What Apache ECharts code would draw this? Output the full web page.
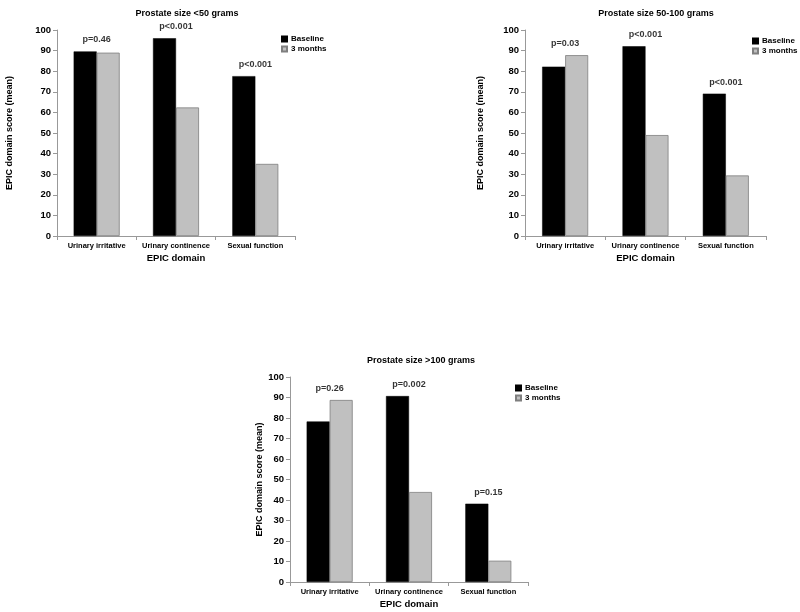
<!DOCTYPE html>
<html><head><meta charset="utf-8">
<script src="https://cdn.jsdelivr.net/npm/echarts@6/dist/echarts.min.js"></script>
<style>html,body{margin:0;padding:0;background:#fff}#c{width:800px;height:612px}</style>
</head><body><div id="c"></div>
<script>
const categories = ['Urinary irritative', 'Urinary continence', 'Sexual function'];
const yTicks = [0, 10, 20, 30, 40, 50, 60, 70, 80, 90, 100];
const panelTitles = ['Prostate size <50 grams', 'Prostate size 50-100 grams', 'Prostate size >100 grams'];
const baselineSmall = [89.6, 96.0, 77.6];
const threeMonthsSmall = [89.0, 62.4, 35.0];
const pSmall = ['p=0.46', 'p<0.001', 'p<0.001'];
const baselineMid = [82.2, 92.1, 69.1];
const threeMonthsMid = [87.8, 49.0, 29.4];
const pMid = ['p=0.03', 'p<0.001', 'p<0.001'];
const baselineLarge = [78.3, 90.7, 38.2];
const threeMonthsLarge = [88.8, 43.9, 10.4];
const pLarge = ['p=0.26', 'p=0.002', 'p=0.15'];

const panels = [
  {b: baselineSmall, m: threeMonthsSmall, p: pSmall, grid: {left: 57, top: 30, width: 238, height: 206}, title: {left: 182, top: 4}, legend: {left: 281, top: 35}, nameGap: 43},
  {b: baselineMid, m: threeMonthsMid, p: pMid, grid: {left: 525, top: 30, width: 241, height: 206}, title: {left: 651, top: 4}, legend: {left: 752, top: 37}, nameGap: 40},
  {b: baselineLarge, m: threeMonthsLarge, p: pLarge, grid: {left: 290, top: 377, width: 238, height: 205}, title: {left: 416, top: 351}, legend: {left: 515, top: 384}, nameGap: 26}
];

const font = 'Liberation Sans, Arial, sans-serif';
const axisLineGrey = '#999';
const option = {
  animation: false,
  backgroundColor: '#fff',
  textStyle: {fontFamily: font},
  title: panels.map((pn, i) => ({
    text: panelTitles[i], left: pn.title.left, top: pn.title.top, textAlign: 'center',
    textStyle: {fontSize: 9, fontWeight: 'bold', color: '#000', fontFamily: font}
  })),
  legend: panels.map((pn, i) => ({
    data: ['Baseline', '3 months'], left: pn.legend.left, top: pn.legend.top, orient: 'vertical',
    icon: 'rect', itemWidth: 5, itemHeight: 5, itemGap: 2, padding: 0,
    textStyle: {fontSize: 8, fontWeight: 'bold', color: '#000', fontFamily: font, padding: [0, 0, 0, -1]},
    selectedMode: false
  })),
  grid: panels.map(pn => Object.assign({containLabel: false}, pn.grid)),
  xAxis: panels.map((pn, i) => ({
    type: 'category', gridIndex: i, data: categories,
    name: 'EPIC domain', nameLocation: 'middle', nameGap: 17,
    nameTextStyle: {fontSize: 9.5, fontWeight: 'bold', color: '#000', fontFamily: font},
    axisLine: {lineStyle: {color: axisLineGrey, width: 1}},
    axisTick: {show: true, alignWithLabel: false, length: 4, lineStyle: {color: axisLineGrey}},
    axisLabel: {fontSize: 7.5, fontWeight: 'bold', color: '#000', margin: 6, fontFamily: font, interval: 0}
  })),
  yAxis: panels.map((pn, i) => ({
    type: 'value', gridIndex: i, min: yTicks[0], max: yTicks[yTicks.length - 1], interval: yTicks[1] - yTicks[0],
    name: 'EPIC domain score (mean)', nameLocation: 'middle', nameRotate: 90, nameGap: pn.nameGap,
    nameTextStyle: {fontSize: 9, fontWeight: 'bold', color: '#000', fontFamily: font},
    axisLine: {show: true, lineStyle: {color: axisLineGrey, width: 1}},
    axisTick: {show: true, length: 4, lineStyle: {color: axisLineGrey}},
    splitLine: {show: false},
    axisLabel: {fontSize: 9.5, fontWeight: 'bold', color: '#000', margin: 6, fontFamily: font}
  })),
  series: []
};

panels.forEach((pn, i) => {
  option.series.push({
    name: 'Baseline', type: 'bar', xAxisIndex: i, yAxisIndex: i, data: pn.b,
    barWidth: 23, barGap: '0%',
    itemStyle: {color: '#000', borderColor: '#000', borderWidth: 0.5}
  });
  option.series.push({
    name: '3 months', type: 'bar', xAxisIndex: i, yAxisIndex: i, data: pn.m,
    barWidth: 23, barGap: '0%',
    itemStyle: {color: '#c0c0c0', borderColor: '#7f7f7f', borderWidth: 0.8}
  });
  option.series.push({
    name: 'p', type: 'scatter', xAxisIndex: i, yAxisIndex: i, symbolSize: 0, silent: true,
    data: pn.b.map((v, k) => ({value: Math.max(v, pn.m[k]), label: {formatter: pn.p[k]}})),
    label: {show: true, position: 'top', distance: 7, fontSize: 9, fontWeight: 'bold', color: '#000', fontFamily: font},
    z: 5
  });
});

const chart = echarts.init(document.getElementById('c'), null, {renderer: 'canvas'});
chart.setOption(option);
</script>
</body></html>
